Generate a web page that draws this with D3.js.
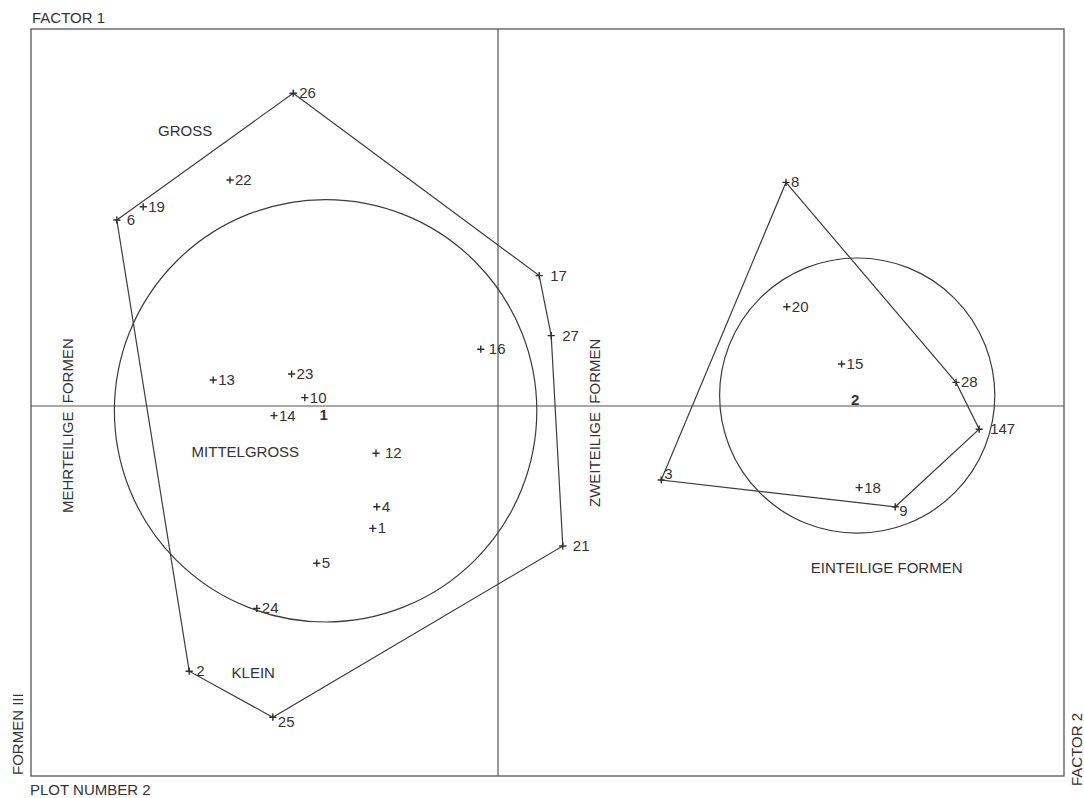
<!DOCTYPE html>
<html>
<head>
<meta charset="utf-8">
<script src="https://cdn.jsdelivr.net/npm/d3@7"></script>
<style>
  body { margin: 0; background: #fff; }
  svg { display: block; }
  text { font-family: "Liberation Sans", Arial, Helvetica, sans-serif; font-size: 15px; fill: #333; }
</style>
</head>
<body>
<svg id="chart" width="1084" height="798"></svg>
<script>
// Object scores (factor 1 horizontal, factor 2 vertical)
const pointIds = ["26", "6", "19", "22", "13", "23", "10", "14", "12", "4", "1", "5", "24", "2", "25",
                  "17", "27", "16", "21", "3", "8", "20", "15", "28", "147", "18", "9"];
const scoreX = [-0.512, -0.953, -0.887, -0.670, -0.712, -0.516, -0.483, -0.560, -0.305, -0.303, -0.313, -0.453, -0.603, -0.772, -0.563,
                 0.103, 0.133, -0.043, 0.162, 0.408, 0.720, 0.722, 0.859, 1.145, 1.203, 0.903, 0.993];
const scoreY = [0.782, 0.465, 0.498, 0.565, 0.065, 0.080, 0.021, -0.024, -0.118, -0.252, -0.306, -0.393, -0.506, -0.663, -0.778,
                 0.326, 0.176, 0.142, -0.350, -0.185, 0.559, 0.248, 0.105, 0.059, -0.058, -0.204, -0.252];

// Outlines around the two groups (vertex order)
const hullOne = ["26", "17", "27", "21", "25", "2", "6"];
const hullTwo = ["8", "28", "147", "9", "3"];

// Cluster circles
const clusterNames = ["1", "2"];
const clusterX = [-0.431, 0.898];
const clusterY = [-0.012, 0.026];
const clusterR = [0.528, 0.344];

// Group names inside the plot
const groupNames = ["GROSS", "MITTELGROSS", "KLEIN", "EINTEILIGE FORMEN"];
const groupX = [-0.850, -0.766, -0.666, 0.782];
const groupY = [0.674, -0.127, -0.681, -0.417];

// Label placement next to each "+" (dx, dy in px)
const labelShift = {
  "26": [6, 5], "6": [10, 5], "17": [11, 5], "27": [11, 5], "16": [8, 5], "12": [9, 5],
  "21": [10, 5], "25": [5, 10], "2": [7, 5], "24": [5, 5], "8": [5, 5], "28": [5, 5],
  "147": [11, 5], "9": [4, 9], "3": [3, -1]
};

const frame = { left: 31, top: 29, right: 1064, bottom: 776 };

const x = d3.scaleLinear().domain([-1.1675, 1.415]).range([frame.left, frame.right]);
const y = d3.scaleLinear().domain([0.9425, -0.925]).range([frame.top, frame.bottom]);

const points = pointIds.map((id, i) => ({ id, x: scoreX[i], y: scoreY[i] }));
const byId = new Map(points.map(p => [p.id, p]));

const svg = d3.select("#chart");
const ink = "#3c3c3c";

// frame
svg.append("rect")
  .attr("x", frame.left).attr("y", frame.top)
  .attr("width", frame.right - frame.left).attr("height", frame.bottom - frame.top)
  .attr("fill", "none").attr("stroke", "#555").attr("stroke-width", 1.3);

// zero lines
svg.append("line")
  .attr("x1", x(0)).attr("x2", x(0)).attr("y1", frame.top).attr("y2", frame.bottom)
  .attr("stroke", "#555").attr("stroke-width", 1.2);
svg.append("line")
  .attr("x1", frame.left).attr("x2", frame.right).attr("y1", y(0)).attr("y2", y(0))
  .attr("stroke", "#555").attr("stroke-width", 1.2);

// circles
clusterNames.forEach((name, i) => {
  svg.append("circle")
    .attr("cx", x(clusterX[i])).attr("cy", y(clusterY[i]))
    .attr("r", x(clusterR[i]) - x(0))
    .attr("fill", "none").attr("stroke", ink).attr("stroke-width", 1.2);
  svg.append("text")
    .attr("x", x(clusterX[i]) - 2).attr("y", y(clusterY[i]) + 9)
    .attr("text-anchor", "middle").attr("font-weight", "bold")
    .text(name);
});

// hulls
const line = d3.line().x(p => x(p.x)).y(p => y(p.y)).curve(d3.curveLinearClosed);
[hullOne, hullTwo].forEach(h => {
  svg.append("path")
    .attr("d", line(h.map(id => byId.get(id))))
    .attr("fill", "none").attr("stroke", ink).attr("stroke-width", 1.2)
    .attr("stroke-linejoin", "miter");
});

// point markers
const arm = 3.6;
svg.append("g").selectAll("path")
  .data(points)
  .join("path")
  .attr("d", p => `M${x(p.x) - arm},${y(p.y)}H${x(p.x) + arm}M${x(p.x)},${y(p.y) - arm}V${y(p.y) + arm}`)
  .attr("stroke", "#2f2f2f").attr("stroke-width", 1.4);

// point labels
svg.append("g").selectAll("text")
  .data(points)
  .join("text")
  .attr("x", p => x(p.x) + (labelShift[p.id] ? labelShift[p.id][0] : 5))
  .attr("y", p => y(p.y) + (labelShift[p.id] ? labelShift[p.id][1] : 5))
  .text(p => p.id);

// group names
groupNames.forEach((g, i) => {
  svg.append("text").attr("x", x(groupX[i])).attr("y", y(groupY[i])).text(g);
});

// vertical captions
function vtext(cx, startY, str) {
  svg.append("text")
    .attr("transform", `translate(${cx},${startY}) rotate(-90)`)
    .text(str);
}
vtext(72.5, 513, "MEHRTEILIGE\u00A0\u00A0FORMEN");
vtext(600, 507, "ZWEITEILIGE\u00A0\u00A0FORMEN");
vtext(22.7, 775, "FORMEN III");
vtext(1081.5, 786, "FACTOR 2");

// corner captions
svg.append("text").attr("x", 32).attr("y", 23).text("FACTOR 1");
svg.append("text").attr("x", 30).attr("y", 795).text("PLOT NUMBER 2");
</script>
</body>
</html>
